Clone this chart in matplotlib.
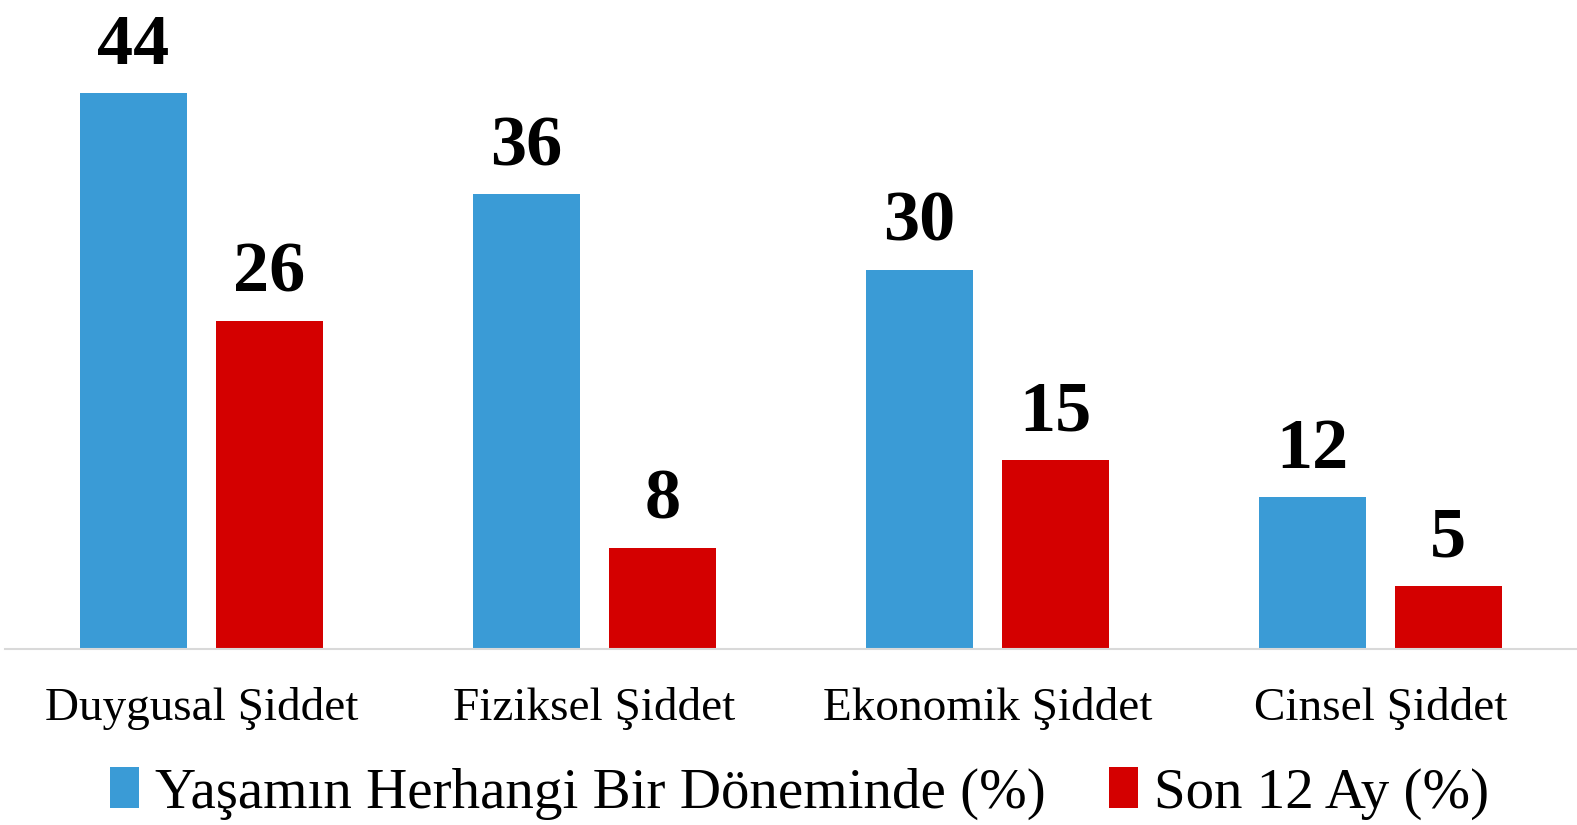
import matplotlib
matplotlib.use("Agg")
import matplotlib.pyplot as plt
import numpy as np

categories = ["Duygusal Şiddet", "Fiziksel Şiddet", "Ekonomik Şiddet", "Cinsel Şiddet"]
lifetime = [44, 36, 30, 12]
last12 = [26, 8, 15, 5]
series_names = ["Yaşamın Herhangi Bir Döneminde (%)", "Son 12 Ay (%)"]
colors = ["#3A9BD6", "#D40000"]

plt.rcParams['font.family'] = ['Liberation Serif', 'DejaVu Serif']

fig = plt.figure(figsize=(15.77, 8.25), dpi=100)
ax = fig.add_axes([0.003, 0.2133, 0.997, 0.77])

x = np.arange(len(categories))
w = 0.273
off = 0.1728
b1 = ax.bar(x - off, lifetime, w, color=colors[0], label=series_names[0])
b2 = ax.bar(x + off, last12, w, color=colors[1], label=series_names[1])

for bars, vals in ((b1, lifetime), (b2, last12)):
    for rect, v in zip(bars, vals):
        ax.annotate(str(v), (rect.get_x() + rect.get_width() / 2, rect.get_height()),
                    xytext=(0, 21), textcoords="offset points",
                    ha="center", va="baseline", fontsize=52, fontweight="bold",
                    color="black", annotation_clip=False)

ax.set_xlim(-0.5, 3.5)
ax.set_ylim(0, 50.3)
ax.set_xticks(x)
ax.set_xticklabels(categories, fontsize=34)
ax.tick_params(axis='x', length=0, pad=27)
ax.set_yticks([])
for s in ("top", "right", "left"):
    ax.spines[s].set_visible(False)
ax.spines["bottom"].set_color("#D9D9D9")
ax.spines["bottom"].set_linewidth(1.5)

fig.legend(handles=[b1, b2], labels=series_names, loc="center",
           bbox_to_anchor=(0.507, 0.038), ncol=2, frameon=False,
           fontsize=41, handlelength=0.52, handleheight=0.72,
           handletextpad=0.28, columnspacing=1.1)

fig.savefig("out.png", dpi=100, facecolor="white")
